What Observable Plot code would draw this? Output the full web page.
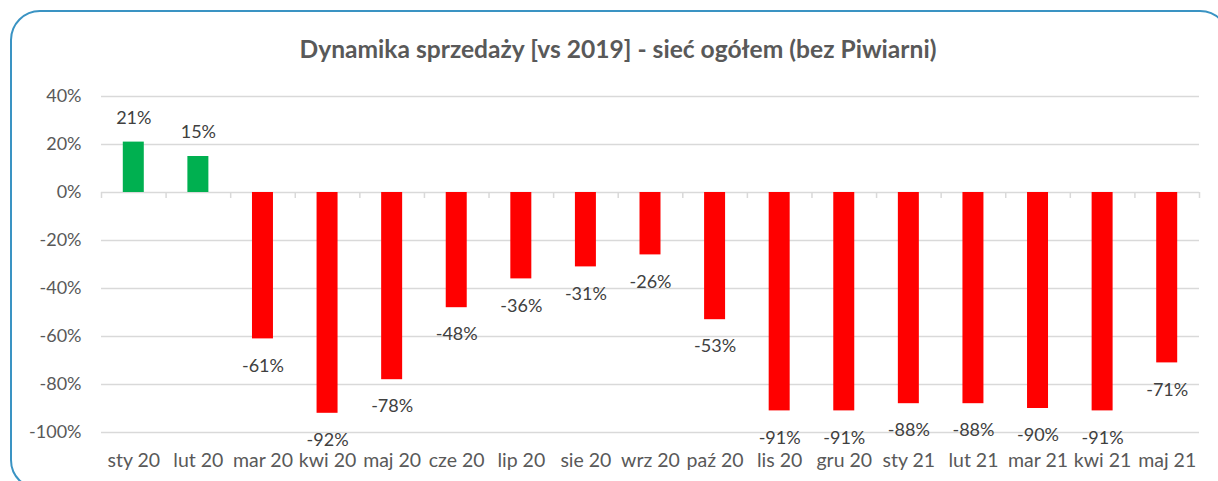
<!DOCTYPE html>
<html>
<head>
<meta charset="utf-8">
<script src="https://cdn.jsdelivr.net/npm/d3@7"></script>
<script src="https://cdn.jsdelivr.net/npm/@observablehq/plot@0.6"></script>
<style>
  html, body { margin: 0; padding: 0; background: #fff; overflow: hidden; width: 1218px; height: 481px; }
  #frame { position: absolute; left: 10px; top: 10px; width: 1220px; height: 480px; box-sizing: border-box;
           border: 2px solid #3a93c3; border-radius: 30px; }
  #title { position: absolute; left: 0; top: 37px; width: 1236px; text-align: center;
           font-family: Lato, sans-serif; font-weight: bold; font-size: 24.6px; line-height: 1; color: #595959; }
  #chart { position: absolute; left: 0; top: 70px; }
</style>
</head>
<body>
<div id="frame"></div>
<div id="title">Dynamika sprzedaży [vs 2019] - sieć ogółem (bez Piwiarni)</div>
<div id="chart"></div>
<script>
const months = ["sty 20","lut 20","mar 20","kwi 20","maj 20","cze 20","lip 20","sie 20","wrz 20","paź 20","lis 20","gru 20","sty 21","lut 21","mar 21","kwi 21","maj 21"];
const values = [21, 15, -61, -92, -78, -48, -36, -31, -26, -53, -91, -91, -88, -88, -90, -91, -71];
const yTicks = [-100, -80, -60, -40, -20, 0, 20, 40];

const data = months.map((m, i) => ({month: m, value: values[i]}));

const W = 1218, H = 411;
const mL = 101, mR = 19;
const step = (W - mL - mR) / months.length;

const plot = Plot.plot({
  width: W,
  height: H,
  marginTop: 26,
  marginBottom: 49,
  marginLeft: mL,
  marginRight: mR,
  style: {fontFamily: "Lato, sans-serif", fontSize: "18px", color: "#595959", background: "transparent"},
  x: {domain: months, paddingInner: 0.675, paddingOuter: 0.3375, round: false, label: null},
  y: {domain: [-100, 40], label: null},
  color: {type: "identity"},
  marks: [
    Plot.ruleY(yTicks, {stroke: "#d9d9d9", strokeWidth: 1.5}),
    Plot.ruleX(months, {x: d => d, y1: 0, y2: 0, insetBottom: -6, dx: -step / 2, stroke: "#d9d9d9", strokeWidth: 1.5}),
    Plot.ruleX(months.slice(-1), {x: d => d, y1: 0, y2: 0, insetBottom: -6, dx: step / 2, stroke: "#d9d9d9", strokeWidth: 1.5}),
    Plot.barY(data, {x: "month", y: "value", fill: d => d.value >= 0 ? "#00b050" : "#ff0000"}),
    Plot.text(data.filter(d => d.value >= 0), {x: "month", y: "value", text: d => d.value + "%", dy: -24, fill: "#404040", lineAnchor: "middle", fontSize: 18}),
    Plot.text(data.filter(d => d.value < 0), {x: "month", y: "value", text: d => d.value + "%", dy: 27, fill: "#404040", lineAnchor: "middle", fontSize: 18}),
    Plot.axisY({ticks: yTicks, tickFormat: d => d + "%", tickSize: 0, tickPadding: 20, fill: "#595959", fontSize: 18}),
    Plot.axisX({tickSize: 0, tickPadding: 21, fill: "#595959", fontSize: 19.5})
  ]
});
document.getElementById("chart").appendChild(plot);
</script>
</body>
</html>
